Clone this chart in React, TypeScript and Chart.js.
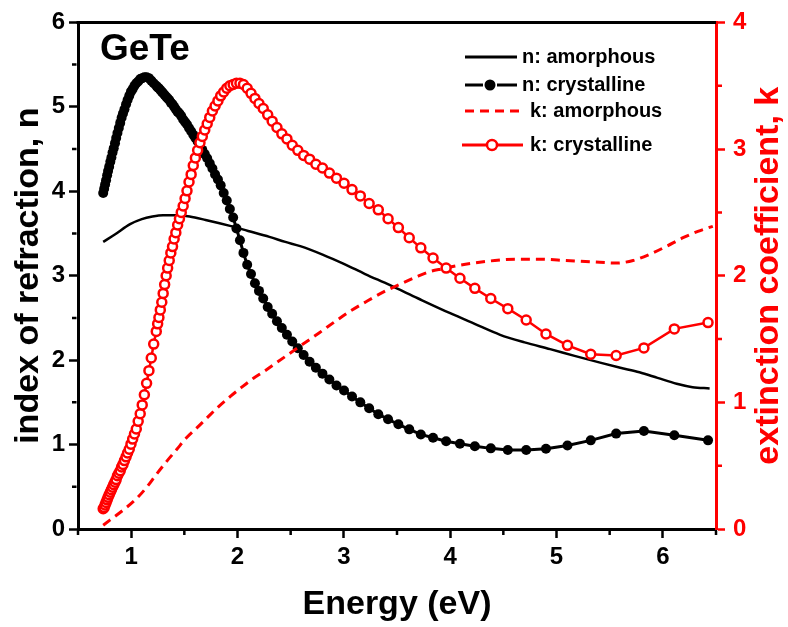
import React, { useEffect, useRef } from "react";
import { Chart, registerables } from "chart.js";

Chart.register(...registerables);

const FONT = '"Liberation Sans", Arial, Helvetica, sans-serif';
const RED = "#ff0000";
const BLACK = "#000000";

// Photon energy (eV) of the crystalline measurements
const energyCryst = [
  0.737, 0.746, 0.755, 0.764, 0.774, 0.783, 0.793, 0.804, 0.814, 0.825,
  0.836, 0.848, 0.859, 0.871, 0.884, 0.897, 0.91, 0.923, 0.937, 0.952,
  0.966, 0.982, 0.998, 1.014, 1.031, 1.048, 1.066, 1.085, 1.104, 1.124,
  1.145, 1.167, 1.189, 1.212,
  1.236, 1.249, 1.261, 1.274, 1.288, 1.301, 1.315, 1.329, 1.343, 1.358,
  1.373, 1.389, 1.404, 1.42, 1.437, 1.454, 1.471, 1.489, 1.507, 1.525,
  1.544, 1.564, 1.584, 1.604, 1.625, 1.647, 1.669, 1.692, 1.715, 1.739,
  1.764, 1.789, 1.816, 1.842, 1.87, 1.899, 1.928, 1.959, 1.99, 2.023, 2.056,
  2.091, 2.127, 2.164, 2.202, 2.242, 2.284, 2.326, 2.371, 2.417, 2.465,
  2.515, 2.567, 2.622, 2.678, 2.737, 2.799, 2.864, 2.931, 3.002, 3.077,
  3.155, 3.238, 3.324, 3.416, 3.513, 3.615, 3.724, 3.839, 3.962, 4.092,
  4.232, 4.382, 4.542, 4.715, 4.901, 5.103, 5.322, 5.561, 5.822, 6.108, 6.425,
];

// n: crystalline
const nCrystalline = [
  3.98, 4.03, 4.08, 4.13, 4.19, 4.24, 4.29, 4.35, 4.4, 4.46,
  4.51, 4.57, 4.63, 4.69, 4.75, 4.81, 4.87, 4.92, 4.97, 5.03,
  5.08, 5.13, 5.18, 5.21, 5.25, 5.28, 5.3, 5.33, 5.34, 5.35,
  5.35, 5.34, 5.31, 5.28,
  5.25, 5.23, 5.22, 5.2, 5.18, 5.16, 5.14, 5.12, 5.1, 5.08,
  5.05, 5.03, 5.0, 4.97, 4.94, 4.92, 4.89, 4.85, 4.82, 4.79,
  4.75, 4.71, 4.67, 4.63, 4.59, 4.54, 4.49, 4.44, 4.39, 4.33,
  4.27, 4.2, 4.14, 4.07, 3.98, 3.89, 3.79, 3.69, 3.56, 3.42, 3.27,
  3.13, 3.02, 2.91, 2.82, 2.73, 2.63, 2.55, 2.46, 2.38, 2.3,
  2.22, 2.14, 2.06, 1.98, 1.91, 1.84, 1.77, 1.7, 1.64, 1.57,
  1.5, 1.43, 1.36, 1.3, 1.24, 1.18, 1.12, 1.08, 1.04, 1.01,
  0.98, 0.955, 0.935, 0.935, 0.95, 0.99, 1.05, 1.13, 1.16, 1.11, 1.05,
];

// k: crystalline
const kCrystalline = [
  0.16, 0.17, 0.19, 0.21, 0.23, 0.25, 0.27, 0.29, 0.31, 0.33,
  0.35, 0.37, 0.39, 0.42, 0.44, 0.46, 0.49, 0.51, 0.54, 0.57,
  0.6, 0.63, 0.67, 0.71, 0.75, 0.79, 0.85, 0.91, 0.98, 1.06,
  1.15, 1.25, 1.35, 1.46,
  1.56, 1.62, 1.67, 1.73, 1.79, 1.86, 1.93, 2.0, 2.06, 2.12,
  2.18, 2.23, 2.29, 2.34, 2.4, 2.45, 2.5, 2.55, 2.61, 2.67,
  2.74, 2.8, 2.87, 2.93, 2.99, 3.05, 3.1, 3.15, 3.2, 3.25,
  3.3, 3.34, 3.38, 3.42, 3.45, 3.48, 3.5, 3.51, 3.52, 3.52, 3.51,
  3.48, 3.44, 3.4, 3.36, 3.32, 3.27, 3.22, 3.17, 3.12, 3.08,
  3.03, 2.99, 2.95, 2.92, 2.88, 2.85, 2.81, 2.77, 2.73, 2.68,
  2.63, 2.57, 2.52, 2.45, 2.38, 2.3, 2.22, 2.14, 2.06, 1.98,
  1.9, 1.82, 1.74, 1.65, 1.54, 1.45, 1.38, 1.37, 1.43, 1.58, 1.63,
];

// n: amorphous
const energyNAmor = [
  0.737, 0.85, 0.99, 1.1, 1.2, 1.3, 1.42, 1.55, 1.7, 1.93, 2.1, 2.3, 2.45,
  2.59, 2.8, 3.0, 3.2, 3.43, 3.7, 4.0, 4.23, 4.47, 4.7, 4.94, 5.17, 5.41,
  5.6, 5.78, 5.95, 6.13, 6.28, 6.44,
];
const nAmorphous = [
  3.4, 3.49, 3.61, 3.67, 3.7, 3.715, 3.715, 3.7, 3.66, 3.59, 3.53, 3.46, 3.4,
  3.35, 3.25, 3.14, 3.02, 2.89, 2.73, 2.556, 2.43, 2.3, 2.21, 2.13, 2.05, 1.97,
  1.91, 1.856, 1.79, 1.72, 1.68, 1.665,
];

// k: amorphous
const energyKAmor = [
  0.737, 0.8, 0.926, 1.05, 1.146, 1.24, 1.33, 1.43, 1.52, 1.62, 1.71, 1.82,
  1.93, 2.04, 2.15, 2.26, 2.37, 2.48, 2.59, 2.77, 2.92, 3.06, 3.22, 3.37,
  3.52, 3.68, 3.8, 3.93, 4.07, 4.22, 4.42, 4.62, 4.85, 5.09, 5.33, 5.56,
  5.72, 5.88, 6.03, 6.19, 6.33, 6.47,
];
const kAmorphous = [
  0.03, 0.07, 0.15, 0.24, 0.33, 0.435, 0.53, 0.63, 0.72, 0.8, 0.875, 0.965,
  1.045, 1.12, 1.19, 1.25, 1.315, 1.38, 1.445, 1.55, 1.64, 1.72, 1.8, 1.87,
  1.93, 1.99, 2.03, 2.055, 2.08, 2.1, 2.12, 2.13, 2.13, 2.12, 2.11, 2.1,
  2.12, 2.17, 2.23, 2.3, 2.35, 2.39,
];

// Tick values
const X_MAJOR = [1, 2, 3, 4, 5, 6];
const X_MINOR = [0.5, 1.5, 2.5, 3.5, 4.5, 5.5, 6.5];
const N_MAJOR = [0, 1, 2, 3, 4, 5, 6];
const N_MINOR = [0.5, 1.5, 2.5, 3.5, 4.5, 5.5];
const K_MAJOR = [0, 1, 2, 3, 4];
const K_MINOR = [0.5, 1.5, 2.5, 3.5];

const SERIES_LABELS = ["n: amorphous", "n: crystalline", "k: amorphous", "k: crystalline"];
const SAMPLE_TEXT = "GeTe";
const X_TITLE = "Energy (eV)";
const N_TITLE = "index of refraction, n";
const K_TITLE = "extinction coefficient, k";

function pts(xs: number[], ys: number[]) {
  return xs.map((x, i) => ({ x, y: ys[i] }));
}

const decorPlugin = {
  id: "decor",
  afterDraw(chart: any) {
    const { ctx, chartArea } = chart;
    const { left, right, top, bottom } = chartArea;
    const xs = chart.scales.x;
    const ys = chart.scales.y;
    const ks = chart.scales.y2;
    ctx.save();
    ctx.lineCap = "butt";

    // top frame line
    ctx.strokeStyle = BLACK;
    ctx.lineWidth = 3;
    ctx.beginPath();
    ctx.moveTo(left - 1.5, top);
    ctx.lineTo(right, top);
    ctx.stroke();

    // minor ticks
    ctx.lineWidth = 2.5;
    ctx.beginPath();
    X_MINOR.forEach((v) => {
      const p = xs.getPixelForValue(v);
      ctx.moveTo(p, bottom + 1.5);
      ctx.lineTo(p, bottom + 6);
    });
    N_MINOR.forEach((v) => {
      const p = ys.getPixelForValue(v);
      ctx.moveTo(left - 1.5, p);
      ctx.lineTo(left - 6, p);
    });
    ctx.stroke();
    ctx.strokeStyle = RED;
    ctx.beginPath();
    K_MINOR.forEach((v) => {
      const p = ks.getPixelForValue(v);
      ctx.moveTo(right + 1.5, p);
      ctx.lineTo(right + 6, p);
    });
    ctx.stroke();

    // sample label
    ctx.fillStyle = BLACK;
    ctx.font = `bold 37px ${FONT}`;
    ctx.textAlign = "left";
    ctx.textBaseline = "alphabetic";
    ctx.fillText(SAMPLE_TEXT, 100, 60);

    // right axis title (reads bottom to top)
    ctx.save();
    ctx.translate(769, (top + bottom) / 2);
    ctx.rotate(-Math.PI / 2);
    ctx.fillStyle = RED;
    ctx.font = `bold 34px ${FONT}`;
    ctx.textAlign = "center";
    ctx.textBaseline = "middle";
    ctx.fillText(K_TITLE, 0, 0);
    ctx.restore();

    // legend
    const rows = [57, 85, 111, 145];
    ctx.lineWidth = 3;
    ctx.strokeStyle = BLACK;
    ctx.beginPath();
    ctx.moveTo(465, rows[0]);
    ctx.lineTo(517, rows[0]);
    ctx.stroke();
    ctx.beginPath();
    ctx.moveTo(465, rows[1]);
    ctx.lineTo(483, rows[1]);
    ctx.moveTo(497, rows[1]);
    ctx.lineTo(517, rows[1]);
    ctx.stroke();
    ctx.fillStyle = BLACK;
    ctx.beginPath();
    ctx.arc(490, rows[1], 5.5, 0, Math.PI * 2);
    ctx.fill();
    ctx.strokeStyle = RED;
    ctx.setLineDash([9, 6]);
    ctx.beginPath();
    ctx.moveTo(465, rows[2]);
    ctx.lineTo(520, rows[2]);
    ctx.stroke();
    ctx.setLineDash([]);
    ctx.beginPath();
    ctx.moveTo(462, rows[3]);
    ctx.lineTo(523, rows[3]);
    ctx.stroke();
    ctx.fillStyle = "#ffffff";
    ctx.lineWidth = 2.5;
    ctx.beginPath();
    ctx.arc(492, rows[3], 5, 0, Math.PI * 2);
    ctx.fill();
    ctx.stroke();

    ctx.fillStyle = BLACK;
    ctx.font = `bold 20px ${FONT}`;
    ctx.textAlign = "left";
    ctx.textBaseline = "middle";
    ctx.fillText(SERIES_LABELS[0], 522, rows[0]);
    ctx.fillText(SERIES_LABELS[1], 522, rows[1]);
    ctx.fillText(SERIES_LABELS[2], 530, rows[2]);
    ctx.fillText(SERIES_LABELS[3], 530, rows[3]);

    ctx.restore();
  },
};

export default function App() {
  const canvasRef = useRef<HTMLCanvasElement | null>(null);

  useEffect(() => {
    if (!canvasRef.current) return;
    const tickFont = { family: FONT, size: 24, weight: "bold" as const };
    const titleFont = { family: FONT, size: 34, weight: "bold" as const, lineHeight: 1.2 };

    const chart = new Chart(canvasRef.current, {
      type: "line",
      data: {
        datasets: [
          {
            label: SERIES_LABELS[3],
            data: pts(energyCryst, kCrystalline),
            yAxisID: "y2",
            order: 0,
            borderColor: RED,
            borderWidth: 2.5,
            pointRadius: 4.5,
            pointBorderWidth: 2.5,
            pointBackgroundColor: "#ffffff",
            pointBorderColor: RED,
            tension: 0,
            fill: false,
          },
          {
            label: SERIES_LABELS[2],
            data: pts(energyKAmor, kAmorphous),
            yAxisID: "y2",
            order: 1,
            borderColor: RED,
            borderWidth: 3,
            borderDash: [9, 6],
            pointRadius: 0,
            cubicInterpolationMode: "monotone",
            fill: false,
          },
          {
            label: SERIES_LABELS[1],
            data: pts(energyCryst, nCrystalline),
            yAxisID: "y",
            order: 2,
            borderColor: BLACK,
            borderWidth: 3,
            pointRadius: 5,
            pointBorderWidth: 0,
            pointBackgroundColor: BLACK,
            pointBorderColor: BLACK,
            tension: 0,
            fill: false,
          },
          {
            label: SERIES_LABELS[0],
            data: pts(energyNAmor, nAmorphous),
            yAxisID: "y",
            order: 3,
            borderColor: BLACK,
            borderWidth: 2.5,
            pointRadius: 0,
            cubicInterpolationMode: "monotone",
            fill: false,
          },
        ],
      },
      options: {
        animation: false,
        responsive: true,
        maintainAspectRatio: false,
        events: [],
        layout: { padding: { top: 15, left: 0, right: 0, bottom: 0 } },
        plugins: {
          legend: { display: false },
          tooltip: { enabled: false },
        },
        scales: {
          x: {
            type: "linear",
            position: "bottom",
            min: 0.5,
            max: 6.5,
            afterFit: (s: any) => {
              s.height = 98;
            },
            afterBuildTicks: (s: any) => {
              s.ticks = X_MAJOR.map((v) => ({ value: v }));
            },
            border: { display: true, color: BLACK, width: 3 },
            grid: {
              drawOnChartArea: false,
              drawTicks: true,
              tickLength: 9,
              tickWidth: 2.5,
              tickColor: BLACK,
            },
            ticks: {
              color: BLACK,
              font: tickFont,
              padding: 5,
              maxRotation: 0,
              autoSkip: false,
            },
            title: {
              display: true,
              text: X_TITLE,
              color: BLACK,
              font: titleFont,
              padding: { top: 0, bottom: 2 },
            },
          },
          y: {
            type: "linear",
            position: "left",
            min: 0,
            max: 6,
            afterFit: (s: any) => {
              s.width = 78;
            },
            afterBuildTicks: (s: any) => {
              s.ticks = N_MAJOR.map((v) => ({ value: v }));
            },
            border: { display: true, color: BLACK, width: 3 },
            grid: {
              drawOnChartArea: false,
              drawTicks: true,
              tickLength: 9,
              tickWidth: 2.5,
              tickColor: BLACK,
            },
            ticks: {
              color: BLACK,
              font: tickFont,
              padding: 4,
              autoSkip: false,
            },
            title: {
              display: true,
              text: N_TITLE,
              color: BLACK,
              font: titleFont,
              padding: { top: 8, bottom: 0 },
            },
          },
          y2: {
            type: "linear",
            position: "right",
            min: 0,
            max: 4,
            afterFit: (s: any) => {
              s.width = 72;
            },
            afterBuildTicks: (s: any) => {
              s.ticks = K_MAJOR.map((v) => ({ value: v }));
            },
            border: { display: true, color: RED, width: 3 },
            grid: {
              drawOnChartArea: false,
              drawTicks: true,
              tickLength: 9,
              tickWidth: 2.5,
              tickColor: RED,
            },
            ticks: {
              color: RED,
              font: tickFont,
              padding: 8,
              autoSkip: false,
            },
            title: { display: false },
          },
        },
      },
      plugins: [decorPlugin],
    } as any);

    return () => chart.destroy();
  }, []);

  return (
    <div
      style={{
        position: "absolute",
        left: 0,
        top: 0,
        width: 788,
        height: 627,
        background: "#ffffff",
      }}
    >
      <canvas ref={canvasRef} />
    </div>
  );
}
